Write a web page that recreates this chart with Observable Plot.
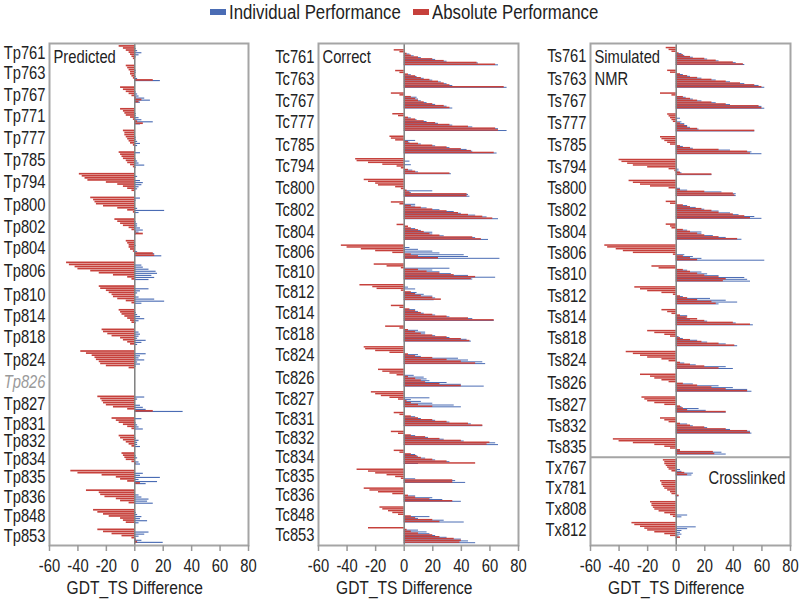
<!DOCTYPE html>
<html><head><meta charset="utf-8">
<script src="https://cdn.jsdelivr.net/npm/d3@7"></script>
<script src="https://cdn.jsdelivr.net/npm/@observablehq/plot@0.6"></script>
<style>
body{margin:0;background:#fff;}
#root{position:relative;width:800px;height:607px;overflow:hidden;font-family:'Liberation Sans',Arial,sans-serif;color:#222;background:#fff;}
.panel{position:absolute;top:0;}
.lg{position:absolute;white-space:nowrap;}
.lt{font-size:20px;line-height:24px;top:0px;transform:scaleX(0.84);transform-origin:0 50%;color:#222;}
.sw{top:9px;width:16px;height:6px;}
</style></head><body><div id="root"></div>
<script>
const xTicks = [-60,-40,-20,0,20,40,60,80];
const seriesNames = ["Individual Performance","Absolute Performance"];

const predNames = ["Tp761","Tp763","Tp767","Tp771","Tp777","Tp785","Tp794","Tp800","Tp802","Tp804","Tp806","Tp810","Tp814","Tp818","Tp824","Tp826","Tp827","Tp831","Tp832","Tp834","Tp835","Tp836","Tp848","Tp853"];
const predRed = [
 [-11,-8,-6,-4,-3,-2,-1],
 [-6,-5,-4,-3,-3,-2,-1,13],
 [-10,-8,-6,-4,-2,1,5,3],
 [-10,-8,-7,-6,-3,-1,2,6],
 [-8,-7,-7,-6,-5,-4,-3,-1],
 [-11,-10,-9,-8,-6,-5,-3,-1],
 [-39,-37,-35,-33,-20,-12,-8,-5,-2],
 [-31,-29,-28,-27,-22,-12,-5,-1],
 [-14,-12,-10,-8,-4,-2,1,6],
 [-6,-5,-4,-4,-3,-1,13,14],
 [-48,-46,-42,-40,-31,-25,-15,-5,-2],
 [-25,-24,-20,-18,-16,-15,-12,-6,-2],
 [-11,-10,-9,-7,-5,-3,-2],
 [-23,-22,-19,-16,-10,-8,-5,-3],
 [-38,-34,-30,-28,-27,-25,-24,-20,-4],
 [],
 [-26,-24,-23,-22,-20,-15,-5,13],
 [-16,-13,-11,-8,-5,-2],
 [-11,-10,-8,-6,-4,-2],
 [-9,-8,-7,-6,-2,1],
 [-45,-40,-23,-13,-10,-5,4],
 [-34,-25,-24,-21,-13,-10,-4],
 [-29,-26,-22,-18,-10,-8,-6],
 [-26,-22,-16,-9,-2,1,2]
];
const predBlue = [
 [0,1,2,5,3,1,0],
 [0,0,1,1,0,1,2,18],
 [0,0,1,2,3,7,11,4],
 [0,0,1,1,3,5,13,4],
 [0,0,0,1,1,2,4,2],
 [4,0,0,1,2,3,7,1],
 [0,2,0,4,6,5,3,2,0],
 [4,1,0,0,0,2,21,3],
 [0,1,2,2,4,6,3,1],
 [0,0,1,0,0,2,14,19],
 [0,5,6,10,15,16,12,14,10],
 [0,10,4,2,0,3,14,21,5],
 [0,1,2,4,7,3,1],
 [0,3,4,3,2,8,5,2],
 [0,8,4,3,7,2,4,1,0],
 [],
 [7,2,0,0,4,6,8,34],
 [5,0,1,2,3,6],
 [0,1,3,2,2,4],
 [0,1,2,0,3,4],
 [0,6,4,18,3,16,8],
 [0,0,3,5,10,9,13],
 [0,1,2,5,4,9,3],
 [0,10,7,3,1,5,20]
];

const corrNames = ["Tc761","Tc763","Tc767","Tc777","Tc785","Tc794","Tc800","Tc802","Tc804","Tc806","Tc810","Tc812","Tc814","Tc818","Tc824","Tc826","Tc827","Tc831","Tc832","Tc834","Tc835","Tc836","Tc848","Tc853"];
const corrRed = [
 [-7,-3,2,5,10,20,28,51,64],
 [-6,-3,3,8,12,18,24,28,32,70],
 [-9,-3,5,8,10,14,20,28,32],
 [-8,-4,3,8,14,22,32,45,64,66],
 [-10,-9,-6,3,10,20,30,40,47,63],
 [-34,-33,-25,-15,-5,-2,3,8,32],
 [-28,-25,-20,-18,-6,-2,2,4,44,44],
 [-9,-3,5,12,20,30,38,45,55,62],
 [-5,3,5,10,14,18,25,48,54],
 [-44,-40,-30,-20,-8,5,10,24],
 [-21,-12,-2,10,16,25,35,50,47],
 [-31,-22,-19,-2,5,8,12,20,26],
 [-9,-3,4,8,12,20,30,45,63],
 [-13,-3,3,8,12,20,30,40,46],
 [-28,-27,-20,-10,3,8,20,30,40,50],
 [-18,-15,-10,-5,3,8,12,15,25,40],
 [-23,-20,-16,-10,-4,2,5,10,20],
 [-7,-3,5,10,20,30,45,55],
 [-9,-4,5,15,25,40,60,58],
 [-7,-3,5,9,12,20,30,50],
 [-33,-25,-20,-12,-6,-2,34,34],
 [-28,-24,-18,-8,3,8,18,34],
 [-17,-15,-11,-8,-4,5,8,20,25],
 [-25,2,5,10,20,25,35,40,39]
];
const corrBlue = [
 [0,0,4,7,12,22,30,52,66],
 [0,0,5,9,14,20,26,30,34,72],
 [0,0,9,10,12,16,22,30,34],
 [0,0,5,9,16,24,34,48,66,72],
 [0,0,8,4,12,22,32,44,48,65],
 [0,4,0,5,0,0,6,10,33],
 [0,0,0,0,0,0,20,5,45,46],
 [0,8,8,16,25,35,40,50,58,66],
 [0,0,8,12,20,20,28,50,59],
 [0,4,10,20,25,42,45,67],
 [0,0,32,20,25,33,45,64,48],
 [0,3,8,0,9,14,20,22,21],
 [0,0,8,10,14,22,32,48,63],
 [0,0,10,15,15,22,32,44,47],
 [0,0,0,0,10,12,38,45,55,57],
 [0,0,0,7,14,16,18,30,40,56],
 [0,0,0,18,5,12,20,35,40],
 [0,0,8,12,22,32,47,55],
 [0,0,8,17,28,42,64,66],
 [0,0,8,10,15,22,32,10],
 [0,0,0,0,0,8,36,43],
 [0,0,0,0,8,20,27,40],
 [0,0,0,0,0,18,10,28,42],
 [0,10,16,18,22,30,40,45,50]
];

const simNames = ["Ts761","Ts763","Ts767","Ts777","Ts785","Ts794","Ts800","Ts802","Ts804","Ts806","Ts810","Ts812","Ts814","Ts818","Ts824","Ts826","Ts827","Ts832","Ts835","Tx767","Tx781","Tx808","Tx812"];
const simRed = [
 [-7,-5,-3,2,5,10,20,28,40,47],
 [-6,-4,3,8,15,25,35,45,55,60],
 [-11,-3,5,10,15,25,35,58,60],
 [-6,-5,-4,-3,-2,3,6,8,15,55],
 [-11,-10,-8,-6,-4,3,10,30,50,52],
 [-40,-38,-34,-30,-20,-5,-1,3,25],
 [-33,-30,-25,-18,-5,3,20,40,41],
 [-7,-4,5,10,18,25,30,40,48,52],
 [-7,-4,-3,5,10,15,20,30,43],
 [-50,-48,-42,-37,-30,-2,5,10,15],
 [-17,-12,5,10,15,20,30,35,33],
 [-29,-25,-20,-10,-2,3,8,15,25,28],
 [-10,-6,-3,3,8,15,20,40,52],
 [-20,-15,-8,-4,3,10,18,30,41],
 [-35,-30,-25,-20,-10,-5,3,10,20,30],
 [-25,-18,-15,-10,-5,5,15,25,35,50],
 [-24,-22,-20,-15,-8,3,5,8,35],
 [-11,-8,-5,3,10,20,35,50,52],
 [-44,-40,-30,-15,-8,-4,3,26,27],
 [-9,-8,-8,-7,-6,-5,-3,6,8],
 [-11,-10,-10,-9,-8,-6,-4,-3,2],
 [-18,-17,-17,-16,-15,-12,-8,-4,-2],
 [-31,-29,-25,-22,-20,-15,-8,-4,3]
];
const simBlue = [
 [0,0,0,4,6,12,22,30,42,48],
 [0,0,5,10,18,28,38,48,58,62],
 [0,0,7,12,18,28,38,60,62],
 [0,0,3,1,4,6,8,10,16,55],
 [0,0,0,0,0,5,12,38,53,60],
 [0,0,0,0,0,2,2,4,25],
 [0,0,0,0,3,8,32,42,42],
 [0,0,8,14,20,30,38,44,55,60],
 [0,0,0,8,18,18,26,35,46],
 [0,0,0,0,0,6,12,18,62],
 [0,0,8,18,22,30,48,50,52],
 [0,0,0,0,0,5,24,35,43,30],
 [0,0,0,8,7,10,22,42,54],
 [0,0,0,2,5,15,22,35,43],
 [0,0,0,0,0,0,6,14,35,40],
 [0,0,0,0,0,12,30,40,50,53],
 [0,0,0,0,0,4,16,21,35],
 [0,0,0,8,12,22,38,52,53],
 [0,0,0,0,0,0,3,32,35],
 [0,0,0,0,0,3,4,12,11],
 [0,0,0,0,0,0,0,0,2],
 [0,0,0,0,0,0,0,8,4],
 [0,0,14,8,4,3,4,2,1]
];

const RED = "#c6403b", BLUE = "#4a6cb4";
const GAP = 2.5, EMPTYROWS = 8, SX = 0.82;
const FONT = "'Liberation Sans',Arial,sans-serif";

function layout(names, reds, blues, padTop, padBottom) {
  const rows = [], labels = [], bounds = {};
  let c = padTop;
  names.forEach((name, k) => {
    const r = reds[k], b = blues[k];
    const n = r.length || EMPTYROWS;
    r.forEach((v, i) => rows.push({y: c + i, red: v, blue: b[i]}));
    labels.push({name, y: c + n / 2, empty: r.length === 0});
    bounds[name] = c + n + GAP / 2;
    c += n + GAP;
  });
  return {rows, labels, bounds, end: c - GAP + padBottom};
}

function narrowText(svg) {
  svg.querySelectorAll("text").forEach(t => {
    const x = +t.getAttribute("x") || 0;
    const tr = t.getAttribute("transform") || "";
    t.setAttribute("transform", `${tr} translate(${x},0) scale(${SX},1) translate(${-x},0)`);
  });
}

function drawPanel({names, reds, blues, left, width, ml, mr, padTop, padBottom, title, extra}) {
  const L = layout(names, reds, blues, padTop, padBottom);
  const marks = [
    Plot.rect(L.rows, {x1: () => 0, x2: "blue", y1: d => d.y + 0.45, y2: d => d.y + 1, fill: BLUE}),
    Plot.rect(L.rows, {x1: () => 0, x2: "red", y1: d => d.y, y2: d => d.y + 0.82, fill: RED}),
    Plot.ruleX([0], {stroke: "#7f7f7f", strokeWidth: 1.5}),
    Plot.frame({stroke: "#a5a5a5", strokeWidth: 2}),
    Plot.text(L.labels.filter(d => !d.empty), {y: "y", text: "name", frameAnchor: "left", textAnchor: "end", dx: -4, fontSize: 18, fill: "#222"}),
    Plot.text(L.labels.filter(d => d.empty), {y: "y", text: "name", frameAnchor: "left", textAnchor: "end", dx: -4, fontSize: 18, fill: "#9a9a9a", fontStyle: "italic"}),
    Plot.text([title], {text: d => d, frameAnchor: "top-left", dx: 4, dy: 4, fontSize: 18, lineHeight: 1.22, fill: "#222"}),
    Plot.text(["GDT_TS Difference"], {x: () => 0, text: d => d, frameAnchor: "bottom", dy: 48, fontSize: 19, fill: "#222"}),
    Plot.axisX({ticks: xTicks, tickSize: 6, tickPadding: 8, tickFormat: d => String(d), stroke: "#999", strokeWidth: 1.5, fill: "#222", fontSize: 18, label: null})
  ];
  if (extra) marks.push(...extra(L));
  const svg = Plot.plot({
    width, height: 607,
    marginLeft: ml, marginRight: mr, marginTop: 43, marginBottom: 62,
    x: {domain: [-60, 80]},
    y: {domain: [0, L.end], reverse: true, axis: null},
    style: {fontFamily: FONT, fontSize: "18px", color: "#222", background: "transparent"},
    marks
  });
  narrowText(svg);
  const div = document.createElement("div");
  div.className = "panel";
  div.style.left = left + "px";
  div.appendChild(svg);
  document.getElementById("root").appendChild(div);
}

drawPanel({names: predNames, reds: predRed, blues: predBlue, left: 0, width: 263, ml: 49, mr: 15, padTop: 1, padBottom: 1, title: "Predicted"});
drawPanel({names: corrNames, reds: corrRed, blues: corrBlue, left: 265, width: 268, ml: 53, mr: 15, padTop: 3.4, padBottom: 1, title: "Correct"});
drawPanel({names: simNames, reds: simRed, blues: simBlue, left: 535, width: 265, ml: 55, mr: 10, padTop: 2.1, padBottom: 3.7, title: "Simulated\nNMR",
  extra: L => {
    const divY = L.bounds["Ts835"];
    const a = L.labels.find(d => d.name === "Tx767").y, b = L.labels.find(d => d.name === "Tx781").y;
    return [
      Plot.ruleY([divY], {stroke: "#a5a5a5", strokeWidth: 2}),
      Plot.text(["Crosslinked"], {y: () => (a + b) / 2, text: d => d, frameAnchor: "right", textAnchor: "end", dx: -5, fontSize: 18, fill: "#222"})
    ];
  }});

const root = document.getElementById("root");
const legendItems = [
  {color: BLUE, name: seriesNames[0], sx: 210, tx: 229},
  {color: RED, name: seriesNames[1], sx: 413, tx: 432}
];
legendItems.forEach(it => {
  const s = document.createElement("div");
  s.className = "lg sw"; s.style.left = it.sx + "px"; s.style.background = it.color;
  const t = document.createElement("div");
  t.className = "lg lt"; t.style.left = it.tx + "px"; t.textContent = it.name;
  root.appendChild(s); root.appendChild(t);
});
</script></body></html>
